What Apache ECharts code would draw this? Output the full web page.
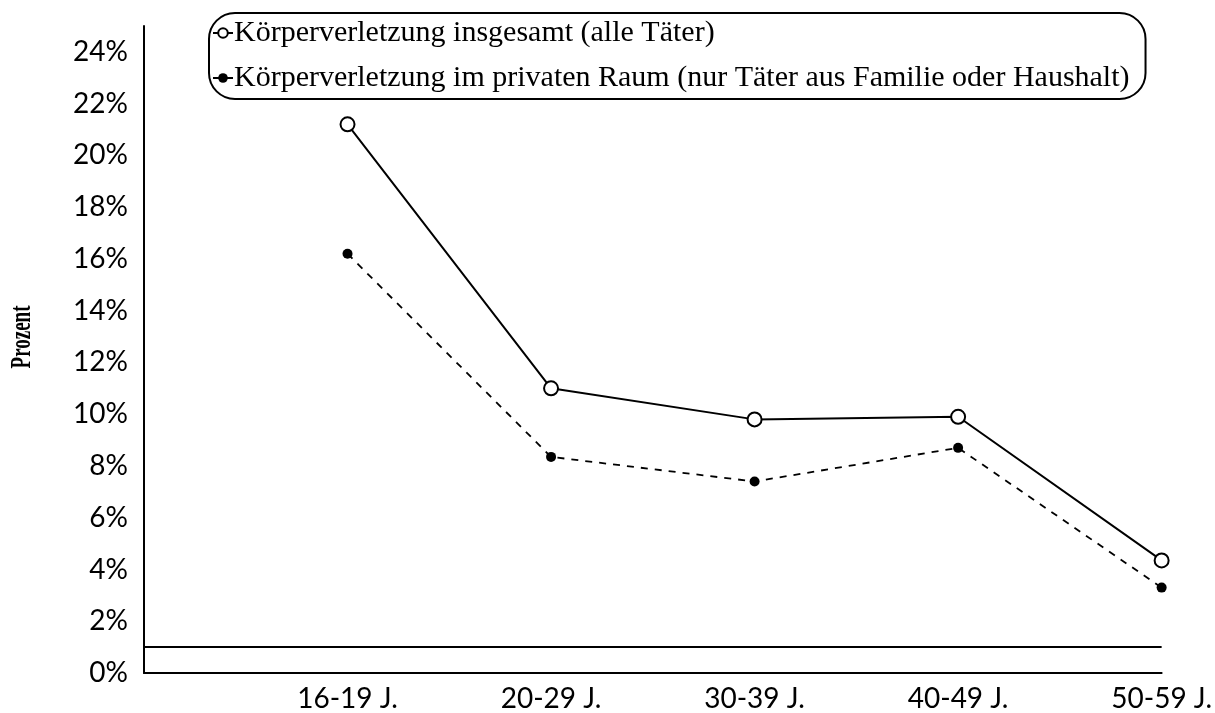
<!DOCTYPE html>
<html style="height: 100%">
<head>
    <meta charset="utf-8">
</head>
<body style="height: 100%; margin: 0; background: #fff">
<div id="container" style="width: 1215px;height: 713px"></div>

<script src="https://cdn.jsdelivr.net/npm/echarts@6/dist/echarts.min.js"></script>
<script type="text/javascript">
    // age groups (first slot is empty, the axis starts one step before 16-19)
    var ageGroups = ['16-19 J.', '20-29 J.', '30-39 J.', '40-49 J.', '50-59 J.'];
    var insgesamt = [21.2, 11.0, 9.8, 9.9, 4.35];
    var privat = [16.2, 8.35, 7.4, 8.7, 3.3];
    var refLine = 1;

    var nameAll = 'Körperverletzung insgesamt (alle Täter)';
    var namePriv = 'Körperverletzung im privaten Raum (nur Täter aus Familie oder Haushalt)';
    var yName = 'Prozent';

    var dom = document.getElementById("container");
    var myChart = echarts.init(dom);

    var labelFont = 'Lato';
    var serif = 'Liberation Serif';

    var option = {
        animation: false,
        backgroundColor: '#fff',
        grid: {
            left: 144,
            right: 49,
            top: 26,
            bottom: 38
        },
        // axis title is drawn tall and narrow in the original scan
        graphic: [{
            type: 'text',
            x: 23,
            y: 337,
            rotation: Math.PI / 2,
            scaleY: 1.5,
            style: {
                text: yName,
                font: 'bold 19px "Liberation Serif"',
                fill: '#000',
                align: 'center',
                verticalAlign: 'middle'
            }
        }],
        legend: {
            orient: 'vertical',
            left: 209,
            top: 13,
            padding: [5, 16, 6, 3],
            itemGap: 15,
            itemWidth: 20,
            itemHeight: 12,
            borderColor: '#000',
            borderWidth: 2,
            borderRadius: 26,
            textStyle: {
                fontFamily: serif,
                fontSize: 30,
                color: '#000',
                padding: [0, 0, 0, -4]
            },
            data: [nameAll, namePriv]
        },
        xAxis: {
            type: 'category',
            boundaryGap: false,
            data: [''].concat(ageGroups),
            axisLine: {lineStyle: {color: '#000', width: 2}},
            axisTick: {show: false},
            axisLabel: {
                margin: 12,
                color: '#000',
                fontFamily: labelFont,
                fontSize: 28
            },
            splitLine: {show: false}
        },
        yAxis: {
            type: 'value',
            min: 0,
            max: 25,
            interval: 2,
            axisLine: {show: true, lineStyle: {color: '#000', width: 2}},
            axisTick: {show: false},
            axisLabel: {
                showMaxLabel: false,
                margin: 16,
                color: '#000',
                fontFamily: labelFont,
                fontSize: 28,
                formatter: '{value}%'
            },
            splitLine: {show: false}
        },
        series: [
            {
                name: nameAll,
                type: 'line',
                data: [null].concat(insgesamt),
                symbol: 'emptyCircle',
                symbolSize: 14,
                itemStyle: {color: '#000', borderWidth: 2},
                lineStyle: {color: '#000', width: 2},
                markLine: {
                    silent: true,
                    symbol: 'none',
                    label: {show: false},
                    lineStyle: {color: '#000', width: 2, type: 'solid'},
                    data: [{yAxis: refLine}]
                }
            },
            {
                name: namePriv,
                type: 'line',
                data: [null].concat(privat),
                symbol: 'circle',
                symbolSize: 10,
                itemStyle: {color: '#000'},
                lineStyle: {color: '#000', width: 1.8, type: [7, 7]}
            }
        ]
    };

    myChart.setOption(option, true);
</script>
</body>
</html>
